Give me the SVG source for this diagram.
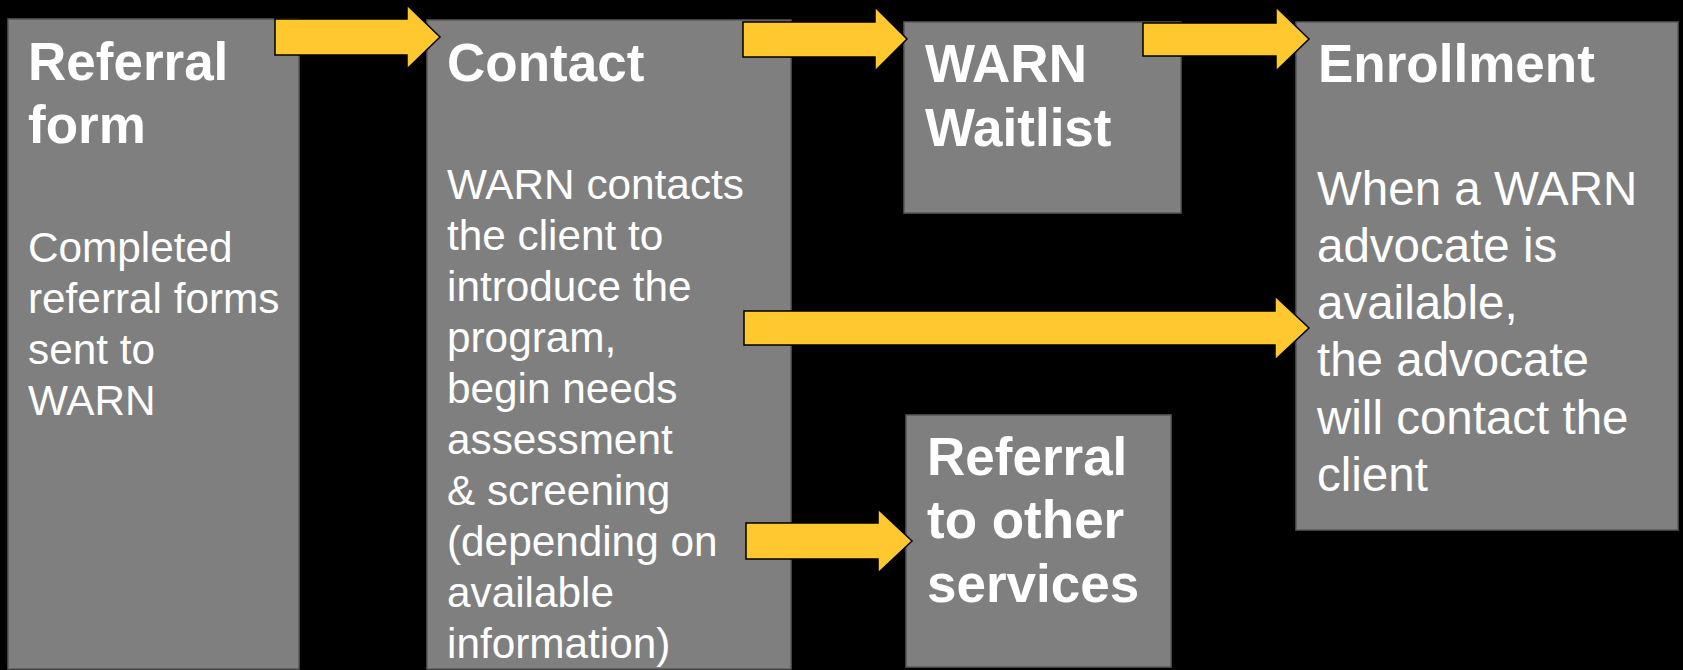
<svg xmlns="http://www.w3.org/2000/svg" width="1683" height="670" viewBox="0 0 1683 670">
<style>
.box{fill:#7f7f7f;stroke:#5a5a5a;stroke-width:1.5}
.t{font-family:"Liberation Sans",Arial,sans-serif;font-weight:bold;font-size:53px;fill:#fff}
.b{font-family:"Liberation Sans",Arial,sans-serif;font-size:42.3px;fill:#fff}
.b2{font-family:"Liberation Sans",Arial,sans-serif;font-size:47.5px;fill:#fff}
.arr{fill:#fec82e;stroke:#000;stroke-width:1.5;stroke-linejoin:miter}
</style>
<rect width="1683" height="670" fill="#000"/>
<g id="referral-form">
<rect class="box" x="8" y="19" width="291" height="650"/>
<text class="t" x="28" y="80">Referral</text>
<text class="t" x="28" y="143">form</text>
<text class="b" x="28" y="262">Completed</text>
<text class="b" x="28" y="313">referral forms</text>
<text class="b" x="28" y="364">sent to</text>
<text class="b" x="28" y="415">WARN</text>
</g>
<g id="contact">
<rect class="box" x="427" y="20" width="364" height="649"/>
<text class="t" x="447" y="81">Contact</text>
<text class="b" x="447" y="199">WARN contacts</text>
<text class="b" x="447" y="250">the client to</text>
<text class="b" x="447" y="301">introduce the</text>
<text class="b" x="447" y="352">program,</text>
<text class="b" x="447" y="403">begin needs</text>
<text class="b" x="447" y="454">assessment</text>
<text class="b" x="447" y="505">&amp; screening</text>
<text class="b" x="447" y="556">(depending on</text>
<text class="b" x="447" y="607">available</text>
<text class="b" x="447" y="658">information)</text>
</g>
<g id="warn-waitlist">
<rect class="box" x="904" y="22" width="277" height="191"/>
<text class="t" x="925" y="82">WARN</text>
<text class="t" x="925" y="146">Waitlist</text>
</g>
<g id="enrollment">
<rect class="box" x="1296" y="22" width="382" height="508"/>
<text class="t" x="1318" y="82">Enrollment</text>
<text class="b2" x="1317" y="205">When a WARN</text>
<text class="b2" x="1317" y="262">advocate is</text>
<text class="b2" x="1317" y="319">available,</text>
<text class="b2" x="1317" y="376">the advocate</text>
<text class="b2" x="1317" y="434">will contact the</text>
<text class="b2" x="1317" y="491">client</text>
</g>
<g id="referral-other">
<rect class="box" x="906" y="415" width="265" height="252"/>
<text class="t" x="927" y="475">Referral</text>
<text class="t" x="927" y="538">to other</text>
<text class="t" x="927" y="602">services</text>
</g>
<g id="connectors">
<polygon class="arr" points="275,19 407,19 407,5 440,37 407,69 407,55 275,55"/>
<polygon class="arr" points="743,22 875,22 875,7 907,39 875,71 875,57 743,57"/>
<polygon class="arr" points="1143,23 1276,23 1276,7 1309,39 1276,71 1276,56 1143,56"/>
<polygon class="arr" points="744,311 1275,311 1275,296 1309,328 1275,360 1275,345 744,345"/>
<polygon class="arr" points="746,523 878,523 878,509 912,541 878,573 878,559 746,559"/>
</g>
</svg>
